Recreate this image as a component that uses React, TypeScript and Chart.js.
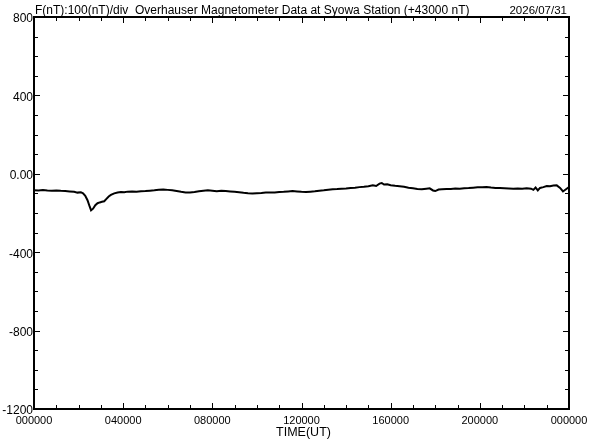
import React, { useEffect, useRef } from "react";
import { Chart, registerables } from "chart.js";

Chart.register(...registerables);

const timeHours = [
  0.0, 0.2, 0.4, 0.6, 0.8, 1.0, 1.2, 1.4, 1.6, 1.8, 1.95, 2.1, 2.2, 2.3, 2.4, 2.5, 2.56, 2.65, 2.75, 2.85,
  2.95, 3.05, 3.15, 3.25, 3.35, 3.45, 3.6, 3.75, 3.9, 4.05, 4.2, 4.4, 4.6, 4.8, 5.0, 5.2, 5.4, 5.6, 5.8, 6.0,
  6.2, 6.4, 6.6, 6.8, 7.0, 7.2, 7.4, 7.6, 7.8, 8.0, 8.2, 8.4, 8.6, 8.8, 9.0, 9.2, 9.4, 9.6, 9.8, 10.0,
  10.2, 10.4, 10.6, 10.8, 11.0, 11.2, 11.4, 11.6, 11.8, 12.0, 12.2, 12.4, 12.6, 12.8, 13.0, 13.2, 13.4, 13.6, 13.8, 14.0,
  14.2, 14.4, 14.6, 14.8, 15.0, 15.2, 15.35, 15.5, 15.6, 15.7, 15.85, 16.0, 16.2, 16.4, 16.6, 16.8, 17.0, 17.2, 17.4, 17.6,
  17.75, 17.9, 18.0, 18.15, 18.3, 18.5, 18.7, 18.9, 19.1, 19.3, 19.5, 19.7, 19.9, 20.1, 20.3, 20.5, 20.7, 20.9, 21.1, 21.3,
  21.5, 21.7, 21.9, 22.1, 22.3, 22.4, 22.5, 22.6, 22.7, 22.85, 23.0, 23.15, 23.3, 23.45, 23.6, 23.73, 23.85, 24.0,
];

const fieldValues = [
  -84, -85, -83, -85, -86, -85, -87, -88, -90, -92, -96, -94, -100, -112, -135, -168, -186, -178, -160, -150,
  -146, -143, -140, -128, -116, -108, -100, -95, -93, -94, -91, -90, -92, -89, -88, -86, -84, -81, -80, -82,
  -84, -88, -92, -95, -96, -93, -89, -86, -84, -86, -89, -86, -88, -90, -92, -94, -97, -99, -100, -99,
  -98, -96, -95, -96, -93, -92, -90, -88, -90, -92, -93, -91, -89, -86, -84, -81, -79, -78, -76, -75,
  -72, -71, -68, -66, -63, -58, -62, -50, -47, -55, -53, -58, -61, -63, -66, -71, -74, -77, -79, -76,
  -74, -85, -88, -80, -79, -78, -77, -75, -76, -74, -73, -71, -69, -68, -67, -70, -72, -73, -74, -75,
  -76, -75, -76, -74, -76, -82, -70, -85, -72, -68, -62, -64, -60, -59, -72, -90, -80, -68,
];

const yTickValues = [800, 400, 0, -400, -800, -1200];
const yTickLabels = ["800", "400", "0.00", "-400", "-800", "-1200"];
const xTickValues = [0, 4, 8, 12, 16, 20, 24];
const xTickLabels = ["000000", "040000", "080000", "120000", "160000", "200000", "000000"];
const titleText = "F(nT):100(nT)/div  Overhauser Magnetometer Data at Syowa Station (+43000 nT)";
const dateText = "2026/07/31";
const xAxisTitle = "TIME(UT)";

const FONT = "'Liberation Sans', Arial, sans-serif";

const framePlugin = {
  id: "framePlugin",
  afterDraw(chart: any) {
    const ctx = chart.ctx as CanvasRenderingContext2D;
    const { left, right, top, bottom } = chart.chartArea;
    const xs = chart.scales.x;
    const ys = chart.scales.y;
    ctx.save();
    ctx.strokeStyle = "#000";
    ctx.fillStyle = "#000";
    ctx.lineWidth = 2;
    ctx.strokeRect(left, top, right - left, bottom - top);

    ctx.lineWidth = 1;
    ctx.beginPath();
    for (let h = 0; h <= 24; h++) {
      const px = Math.round(xs.getPixelForValue(h)) + 0.5;
      const len = h % 4 === 0 ? 6 : 4;
      ctx.moveTo(px, bottom);
      ctx.lineTo(px, bottom - len);
      ctx.moveTo(px, top);
      ctx.lineTo(px, top + len);
    }
    for (let v = -1200; v <= 800; v += 100) {
      const py = Math.round(ys.getPixelForValue(v)) + 0.5;
      const len = v % 400 === 0 ? 6 : 4;
      ctx.moveTo(left, py);
      ctx.lineTo(left + len, py);
      ctx.moveTo(right, py);
      ctx.lineTo(right - len, py);
    }
    ctx.stroke();

    ctx.font = `12px ${FONT}`;
    ctx.textAlign = "right";
    ctx.textBaseline = "middle";
    yTickValues.forEach((v, i) => {
      ctx.fillText(yTickLabels[i], left - 1, ys.getPixelForValue(v) + 2);
    });

    ctx.font = `11px ${FONT}`;
    ctx.textAlign = "center";
    ctx.textBaseline = "alphabetic";
    xTickValues.forEach((v, i) => {
      ctx.fillText(xTickLabels[i], xs.getPixelForValue(v), bottom + 15);
    });

    ctx.font = `12.5px ${FONT}`;
    ctx.fillText(xAxisTitle, (left + right) / 2 + 2, bottom + 27);

    ctx.font = `12px ${FONT}`;
    ctx.textAlign = "left";
    ctx.fillText(titleText, left + 1, top - 3);
    ctx.font = `11.5px ${FONT}`;
    ctx.textAlign = "right";
    ctx.fillText(dateText, right - 2, top - 3);
    ctx.restore();
  },
};

export default function App() {
  const canvasRef = useRef<HTMLCanvasElement | null>(null);

  useEffect(() => {
    if (!canvasRef.current) return;
    const points = timeHours.map((t, i) => ({ x: t, y: fieldValues[i] }));
    const chart = new Chart(canvasRef.current, {
      type: "line",
      data: {
        datasets: [
          {
            data: points,
            borderColor: "#000",
            borderWidth: 2,
            pointRadius: 0,
            tension: 0,
            fill: false,
          },
        ],
      },
      options: {
        animation: false,
        responsive: false,
        maintainAspectRatio: false,
        events: [],
        layout: { padding: { left: 34, right: 23, top: 17, bottom: 31 } },
        plugins: { legend: { display: false }, tooltip: { enabled: false }, title: { display: false } },
        scales: {
          x: { type: "linear", min: 0, max: 24, display: false },
          y: { type: "linear", min: -1200, max: 800, display: false },
        },
      },
      plugins: [framePlugin],
    });
    return () => chart.destroy();
  }, []);

  return (
    <div style={{ position: "fixed", left: 0, top: 0, width: 592, height: 440, background: "#fff" }}>
      <canvas ref={canvasRef} width={592} height={440} style={{ width: 592, height: 440, display: "block" }} />
    </div>
  );
}
